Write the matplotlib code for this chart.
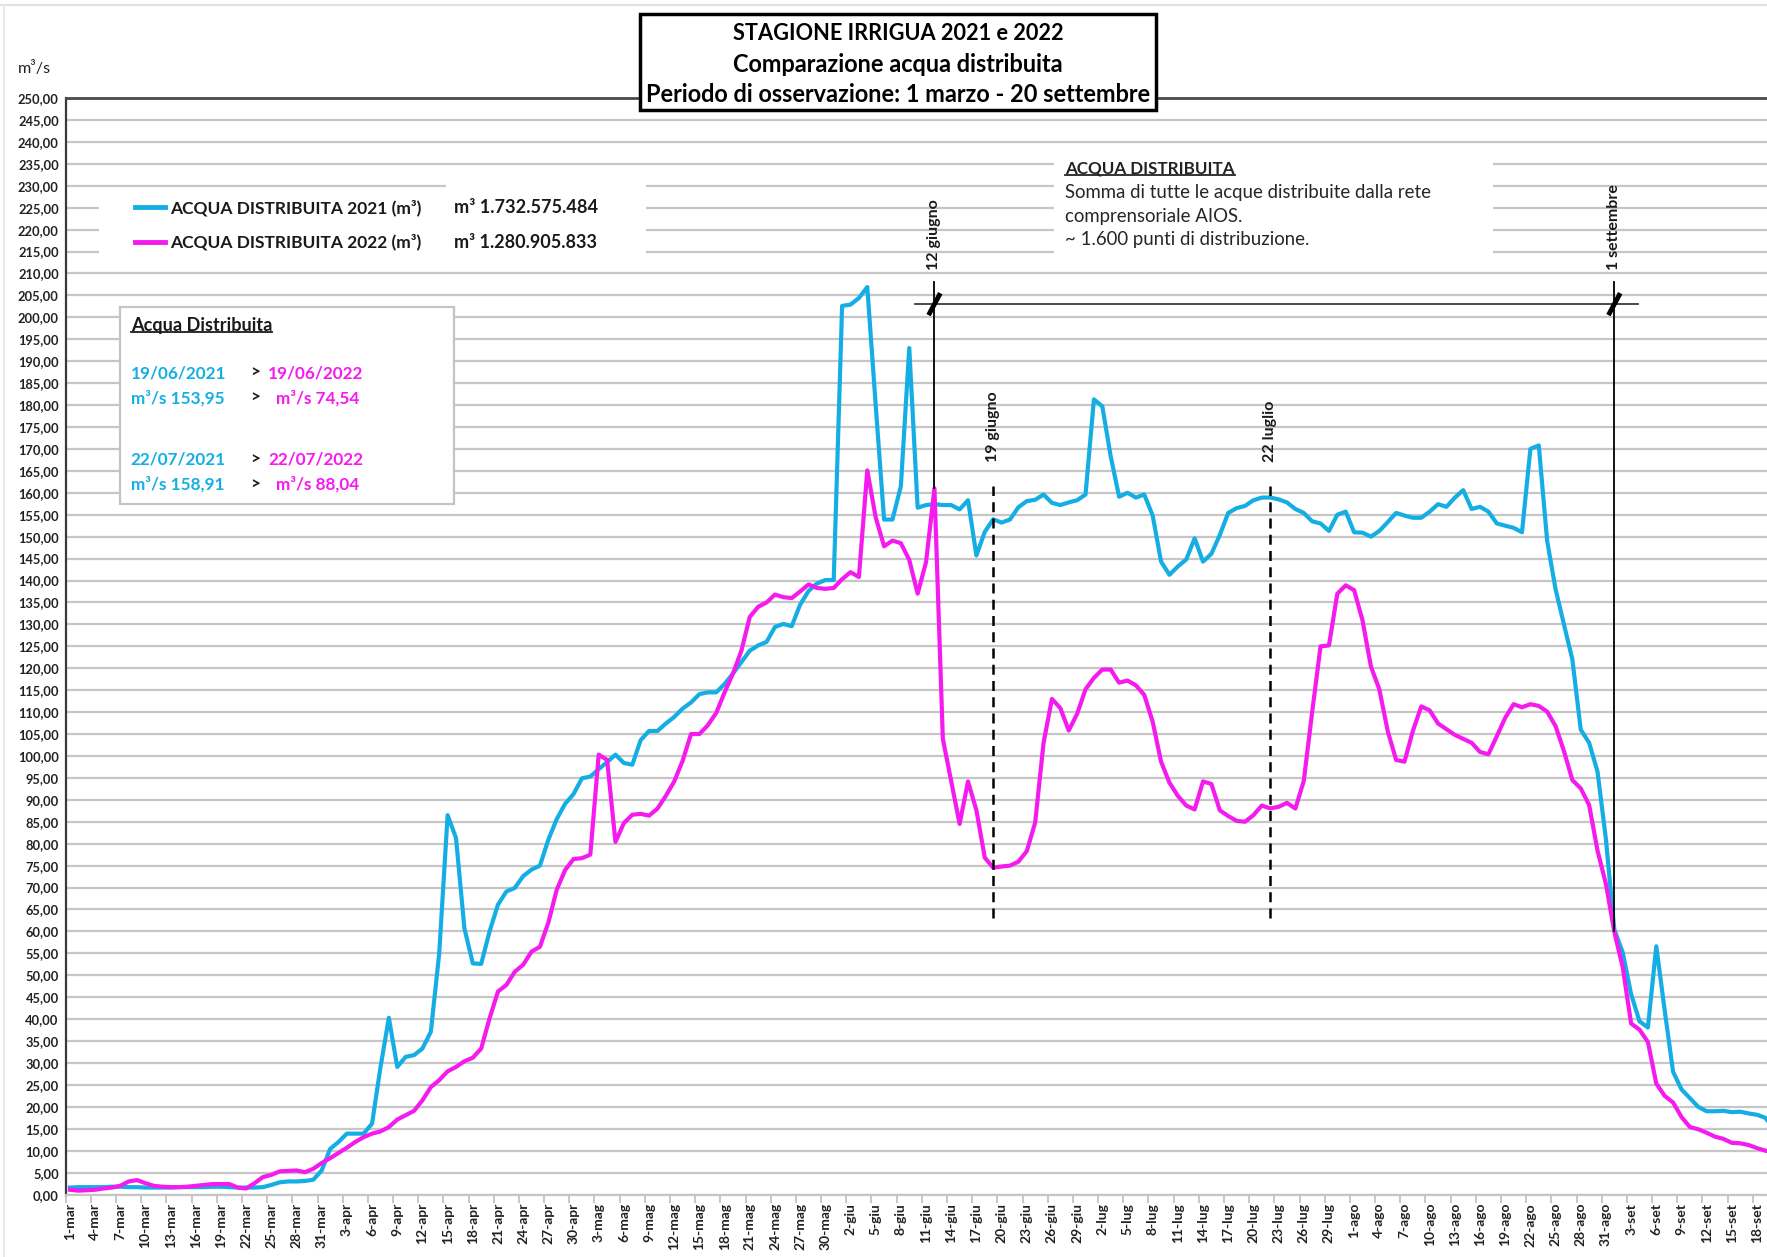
import numpy as np
import pandas as pd
import matplotlib

matplotlib.use('Agg')
import matplotlib.pyplot as plt
from matplotlib.patches import Rectangle
from matplotlib.lines import Line2D

plt.rcParams['font.family'] = ['Lato', 'DejaVu Sans']

W, H = 1767, 1257
BLUE = '#15aee4'
MAGENTA = '#f51aee'

# categorie: un giorno dal 1 marzo al 20 settembre
MESI = {3: 'mar', 4: 'apr', 5: 'mag', 6: 'giu', 7: 'lug', 8: 'ago', 9: 'set'}
giorni = [f'{d.day}-{MESI[d.month]}' for d in pd.date_range('2022-03-01', '2022-09-20')]

# m3/s distribuiti
acqua_2021 = [
    1.6, 1.7, 1.7, 1.7, 1.7, 1.8, 1.8, 1.7, 1.7, 1.6,
    1.6, 1.6, 1.6, 1.7, 1.7, 1.7, 1.7, 1.8, 1.8, 1.7,
    1.6, 1.6, 1.6, 1.7, 2.2, 2.8, 3.0, 3.0, 3.1, 3.4,
    5.5, 10.4, 12.0, 13.9, 13.9, 13.9, 16.2, 29.0, 40.3, 29.1,
    31.4, 31.8, 33.3, 37.1, 55.0, 86.5, 81.3, 60.7, 52.7, 52.6,
    60.0, 66.1, 69.1, 69.9, 72.6, 74.1, 75.0, 80.9, 85.6, 89.1,
    91.3, 94.9, 95.3, 97.0, 98.6, 100.3, 98.4, 98.0, 103.6, 105.7,
    105.7, 107.4, 108.9, 110.8, 112.2, 114.1, 114.5, 114.5, 116.4, 118.8,
    121.4, 124.0, 125.2, 126.0, 129.4, 130.1, 129.6, 134.5, 137.6, 139.3,
    140.1, 140.1, 202.6, 202.9, 204.4, 206.9, 180.0, 153.9, 153.9, 161.5,
    193.0, 156.6, 157.2, 157.4, 157.2, 157.2, 156.2, 158.3, 145.7, 151.1,
    153.95, 153.2, 153.9, 156.7, 158.1, 158.4, 159.6, 157.7, 157.2, 157.8,
    158.3, 159.6, 181.3, 179.7, 168.3, 159.1, 160.0, 158.9, 159.6, 154.8,
    144.3, 141.3, 143.2, 144.8, 149.6, 144.3, 146.1, 150.4, 155.4, 156.5,
    157.0, 158.3, 158.9, 158.91, 158.5, 157.8, 156.3, 155.4, 153.5, 153.0,
    151.3, 155.0, 155.7, 151.0, 150.9, 150.0, 151.3, 153.3, 155.4, 154.8,
    154.3, 154.3, 155.7, 157.4, 156.8, 158.9, 160.6, 156.3, 156.8, 155.7,
    153.0, 152.5, 152.0, 151.0, 170.0, 170.8, 149.0, 138.0, 130.0, 122.0,
    106.0, 103.0, 96.4, 81.0, 60.4, 55.2, 45.7, 39.5, 38.1, 56.6,
    42.0, 28.0, 24.0, 22.0, 20.0, 19.0, 19.0, 19.1, 18.8, 18.9,
    18.5, 18.2, 17.5, 15.0,
]
acqua_2022 = [
    1.1, 0.9, 1.0, 1.1, 1.4, 1.6, 2.0, 3.0, 3.3, 2.6,
    2.0, 1.8, 1.7, 1.7, 1.8, 2.0, 2.2, 2.4, 2.4, 2.4,
    1.6, 1.4, 2.6, 4.0, 4.5, 5.3, 5.4, 5.5, 5.1, 5.9,
    7.2, 8.3, 9.5, 10.7, 12.0, 13.1, 13.9, 14.4, 15.4, 17.1,
    18.1, 19.1, 21.5, 24.5, 26.1, 28.1, 29.1, 30.4, 31.2, 33.3,
    40.2, 46.3, 47.8, 50.8, 52.4, 55.4, 56.5, 62.0, 69.5, 74.0,
    76.5, 76.7, 77.5, 100.3, 99.1, 80.4, 84.7, 86.6, 86.8, 86.4,
    88.0, 90.9, 94.2, 98.9, 105.0, 105.0, 107.0, 109.8, 114.5, 118.8,
    124.0, 131.7, 134.0, 135.0, 136.8, 136.2, 136.0, 137.5, 139.1, 138.3,
    138.1, 138.3, 140.3, 141.9, 140.8, 165.1, 154.4, 147.8, 149.1, 148.5,
    144.7, 137.0, 144.2, 161.0, 103.9, 94.2, 84.5, 94.2, 87.6, 76.8,
    74.54, 74.8, 75.0, 75.9, 78.3, 84.8, 103.0, 113.0, 110.9, 105.8,
    109.6, 115.2, 117.8, 119.7, 119.7, 116.7, 117.2, 116.1, 113.9, 107.8,
    98.7, 93.9, 90.9, 88.7, 87.8, 94.2, 93.6, 87.6, 86.3, 85.2,
    85.0, 86.5, 88.7, 88.04, 88.4, 89.3, 88.0, 94.3, 110.0, 125.0,
    125.2, 137.0, 138.9, 137.8, 130.9, 120.4, 115.2, 105.7, 99.1, 98.7,
    105.7, 111.3, 110.4, 107.4, 106.1, 104.8, 103.9, 103.0, 100.9, 100.4,
    104.5, 108.7, 111.8, 111.1, 111.8, 111.4, 110.1, 106.8, 101.1, 94.5,
    92.6, 88.8, 78.4, 70.8, 59.9, 51.8, 39.0, 37.6, 34.8, 25.3,
    22.5, 21.0, 17.7, 15.4, 14.9, 14.1, 13.2, 12.7, 11.8, 11.7,
    11.3, 10.6, 10.0, 9.8,
]
assert len(acqua_2021) == len(giorni) == len(acqua_2022)

# date evidenziate (indice del giorno)
g_12giu = giorni.index('12-giu')
g_19giu = giorni.index('19-giu')
g_22lug = giorni.index('22-lug')
g_1set = giorni.index('1-set')

days = np.arange(len(giorni))


def fx(x):
    return x / W


def fy(y):
    return 1 - y / H


fig = plt.figure(figsize=(W / 100, H / 100), dpi=100)
renderer = fig.canvas.get_renderer()


def fit(t, px):
    w = t.get_window_extent(renderer=renderer).width
    t.set_fontsize(t.get_fontsize() * px / w)
    return t


def underline(t, color):
    bb = t.get_window_extent(renderer=renderer)
    y = bb.y0 + 0.06 * t.get_fontsize() * 100 / 72 + 1
    fig.add_artist(Line2D([bb.x0 / W, bb.x1 / W], [y / H, y / H], color=color, lw=1.3, zorder=5))


ax = fig.add_axes([fx(65.7), fy(1194.6), (1778 - 65.7) / W, (1194.6 - 98) / H])
ax.set_xlim(-0.5, len(giorni) - 0.5)
ax.set_ylim(0, 250)

ax.plot(days, acqua_2021, color=BLUE, lw=3, solid_joinstyle='round', zorder=3)
ax.plot(days, acqua_2022, color=MAGENTA, lw=3, solid_joinstyle='round', zorder=4)

yt = np.arange(0, 251, 5)
ax.set_yticks(yt)
ax.set_yticklabels([f'{v:.2f}'.replace('.', ',') for v in yt], fontsize=9.3, fontweight='bold', color='#222222')
ax.tick_params(axis='y', length=0, pad=5)
ax.set_xticks(days[::3])
ax.set_xticklabels(giorni[::3], rotation=90, fontsize=10, fontweight='bold', color='#222222')
ax.set_xticks(np.arange(-0.5, len(giorni), 3), minor=True)
ax.tick_params(axis='x', which='major', length=0, pad=6)
ax.tick_params(axis='x', which='minor', length=6, color='#bdbdbd', width=1.2)

ax.yaxis.grid(True, color='#c6c6c6', lw=1.6)
ax.set_axisbelow(True)
ax.spines['right'].set_visible(False)
ax.spines['left'].set_color('#3a3a3a')
ax.spines['left'].set_linewidth(1.6)
ax.spines['top'].set_color('#4a4a4a')
ax.spines['top'].set_linewidth(2)
ax.spines['bottom'].set_color('#c6c6c6')
ax.spines['bottom'].set_linewidth(1.6)

# linee delle date
ax.plot([g_12giu, g_12giu], [161, 208], color='black', lw=1.3, zorder=5)
ax.plot([g_1set, g_1set], [60, 208], color='black', lw=1.3, zorder=5)
ax.plot([g_12giu - 2.3, g_1set + 2.8], [203, 203], color='#3a3a3a', lw=1.3, zorder=5)
for g in (g_12giu, g_1set):
    ax.plot([g - 0.7, g + 0.7], [200.5, 205.5], color='black', lw=3.5, solid_capstyle='butt', zorder=6)
for g in (g_19giu, g_22lug):
    ax.plot([g, g], [63, 161.5], color='black', lw=1.8, ls=(0, (4, 2.5)), zorder=5)
for g, y, txt in [(g_12giu, 210.7, '12 giugno'), (g_1set, 210.7, '1 settembre'),
                  (g_19giu, 167, '19 giugno'), (g_22lug, 167, '22 luglio')]:
    ax.text(g, y, txt, rotation=90, ha='center', va='bottom', fontsize=11.5, fontweight='bold', color='#1a1a1a')

# cornice leggera
fig.add_artist(Line2D([0, 1], [fy(5), fy(5)], color='#e2e2e2', lw=1.5))
fig.add_artist(Line2D([fx(4), fx(4)], [fy(5), 0], color='#e8e8e8', lw=1.5))

# fondi bianchi sotto legenda e note
for x0, x1, y0, y1 in [(99, 646, 194.6, 262.6), (446, 646, 179.2, 262.6), (1054, 1493, 153, 262.6)]:
    fig.add_artist(Rectangle((fx(x0), fy(y1)), (x1 - x0) / W, (y1 - y0) / H, transform=fig.transFigure,
                             fc='white', ec='none', zorder=1))

# titolo
fig.add_artist(Rectangle((fx(640), fy(110)), (1156 - 640) / W, (110 - 13.5) / H, transform=fig.transFigure,
                         fc='white', ec='black', lw=2.5, zorder=3))
for txt, y, w in [('STAGIONE IRRIGUA 2021 e 2022', 33.8, 332),
                  ('Comparazione acqua distribuita', 64.2, 332),
                  ('Periodo di osservazione: 1 marzo - 20 settembre', 94.7, 507)]:
    fit(fig.text(fx(898), fy(y), txt, ha='center', va='center', fontsize=16, fontweight='bold', zorder=4), w)

fit(fig.text(fx(18), fy(68), 'm³/s', ha='left', va='center', fontsize=10, color='#222222'), 33)

# legenda
for col, txt, val, y in [(BLUE, 'ACQUA DISTRIBUITA 2021 (m³)', 'm³ 1.732.575.484', 207.4),
                         (MAGENTA, 'ACQUA DISTRIBUITA 2022 (m³)', 'm³ 1.280.905.833', 242.3)]:
    fig.add_artist(Line2D([fx(135), fx(165)], [fy(y), fy(y)], color=col, lw=3.5, zorder=2))
    fit(fig.text(fx(170), fy(y), txt, ha='left', va='center', fontsize=12, fontweight='bold',
                 color='#1a1a1a', zorder=2), 252)
    fit(fig.text(fx(454), fy(y), val, ha='left', va='center', fontsize=12, fontweight='bold',
                 color='#1a1a1a', zorder=2), 143)

# nota in alto a destra
t = fit(fig.text(fx(1065), fy(169), 'ACQUA DISTRIBUITA', ha='left', va='center', fontsize=11,
                 fontweight='bold', color='#222222', zorder=2), 170)
underline(t, '#222222')
t = fit(fig.text(fx(1065), fy(192.7), 'Somma di tutte le acque distribuite dalla rete', ha='left', va='center',
                 fontsize=11, color='#262626', zorder=2), 364)
fs = t.get_fontsize()
fig.text(fx(1065), fy(216.4), 'comprensoriale AIOS.', ha='left', va='center', fontsize=fs, color='#262626', zorder=2)
fig.text(fx(1065), fy(240), '~ 1.600 punti di distribuzione.', ha='left', va='center', fontsize=fs,
         color='#262626', zorder=2)

# riquadro confronto
fig.add_artist(Rectangle((fx(119.5), fy(503.8)), (454 - 119.5) / W, (503.8 - 306.5) / H, transform=fig.transFigure,
                         fc='white', ec='#c4c4c4', lw=1.6, zorder=1))
t = fit(fig.text(fx(130.7), fy(325.7), 'Acqua Distribuita', ha='left', va='center', fontsize=11,
                 fontweight='bold', color='#1a1a1a', zorder=2), 141)
underline(t, '#1a1a1a')
t = fit(fig.text(fx(130.7), fy(373), '19/06/2021', ha='left', va='center', fontsize=11, fontweight='bold',
                 color=BLUE, zorder=2), 96)
fs = t.get_fontsize()
righe = [(397.8, 'm³/s 153,95', 'm³/s 74,54', 276),
         (459.8, '22/07/2021', '22/07/2022', 268),
         (484.6, 'm³/s 158,91', 'm³/s 88,04', 276)]
fig.text(fx(268), fy(373), '19/06/2022', ha='left', va='center', fontsize=fs, fontweight='bold', color=MAGENTA,
         zorder=2)
fig.text(fx(250), fy(373), '>', ha='left', va='center', fontsize=fs, fontweight='bold', color='#1a1a1a', zorder=2)
for y, a, b, xb in righe:
    fig.text(fx(130.7), fy(y), a, ha='left', va='center', fontsize=fs, fontweight='bold', color=BLUE, zorder=2)
    fig.text(fx(250), fy(y), '>', ha='left', va='center', fontsize=fs, fontweight='bold', color='#1a1a1a', zorder=2)
    fig.text(fx(xb), fy(y), b, ha='left', va='center', fontsize=fs, fontweight='bold', color=MAGENTA, zorder=2)

fig.savefig('out.png', dpi=100, facecolor='white')
